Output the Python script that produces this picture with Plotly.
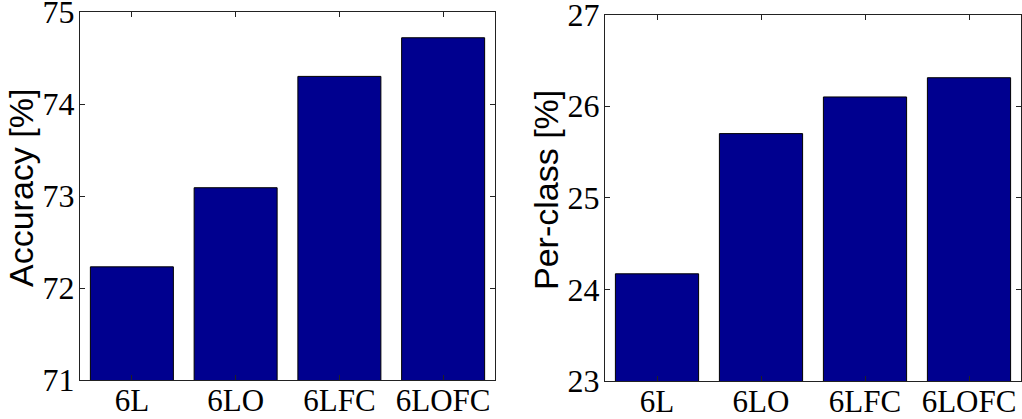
import plotly.graph_objects as go
from plotly.subplots import make_subplots

categories = ["6L", "6LO", "6LFC", "6LOFC"]
accuracy = [72.23, 73.09, 74.30, 74.72]
per_class = [24.17, 25.70, 26.10, 26.31]
acc_ticks = [71, 72, 73, 74, 75]
pc_ticks = [23, 24, 25, 26, 27]
y_titles = ["Accuracy [%]", "Per-class [%]"]

W, H = 1022, 419
fig = make_subplots(rows=1, cols=2)

bar_color = "#00008F"
for i, vals in enumerate([accuracy, per_class]):
    fig.add_trace(go.Bar(x=list(range(1, 5)), y=vals, width=0.8,
                         marker=dict(color=bar_color, line=dict(color="black", width=1)),
                         showlegend=False, hoverinfo="skip"), row=1, col=i + 1)

xtick_font = dict(family="Liberation Serif, Times New Roman, serif", size=31, color="black")
ytick_font = dict(family="Liberation Serif, Times New Roman, serif", size=32, color="black")
title_font = dict(family="Liberation Sans, Arial, sans-serif", size=34, color="black")

common_x = dict(range=[0.5, 4.5], tickmode="array", tickvals=[1, 2, 3, 4], ticktext=categories,
                showline=True, linecolor="#222", linewidth=1.2, mirror="ticks",
                ticks="inside", ticklen=5, tickcolor="#222", showgrid=False, zeroline=False,
                tickfont=xtick_font, automargin=False, ticklabelstandoff=-7,
                ticklabeloverflow="allow")
common_y = dict(tickmode="array", showline=True, linecolor="#222", linewidth=1.2, mirror="ticks",
                ticks="inside", ticklen=5, tickcolor="#222", showgrid=False, zeroline=False,
                tickfont=ytick_font, ticklabelstandoff=-2, automargin=False,
                ticklabeloverflow="allow")

fig.update_layout(
    width=W, height=H, margin=dict(l=0, r=0, t=0, b=0, autoexpand=False),
    paper_bgcolor="white", plot_bgcolor="white",
    xaxis=dict(domain=[80 / W, 495 / W], **common_x),
    xaxis2=dict(domain=[605 / W, 1021 / W], **common_x),
    yaxis=dict(domain=[(H - 380) / H, (H - 12) / H], range=[71, 75], tickvals=acc_ticks, **common_y),
    yaxis2=dict(domain=[(H - 381) / H, (H - 14.5) / H], range=[23, 27], tickvals=pc_ticks, **common_y),
)

for txt, xc, yc in [(y_titles[0], 21, 188), (y_titles[1], 546, 190)]:
    fig.add_annotation(text=txt, xref="paper", yref="paper", x=xc / W, y=(H - yc) / H,
                       xanchor="center", yanchor="middle", textangle=-90, showarrow=False,
                       font=title_font)

fig.write_html("out.html", config={"displayModeBar": False},
               post_script="document.body.style.margin='0';document.body.style.overflow='hidden';")
